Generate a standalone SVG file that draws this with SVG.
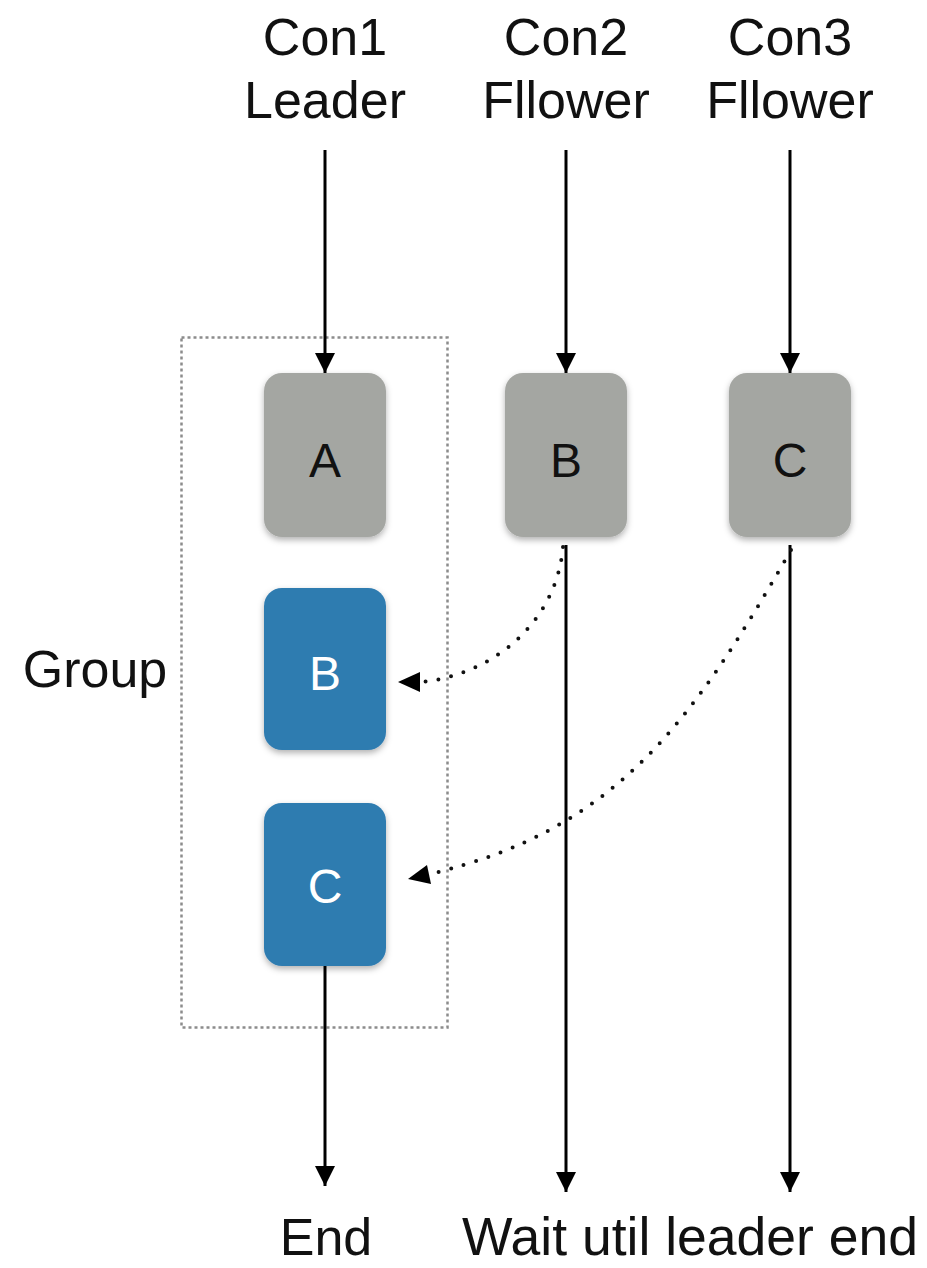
<svg xmlns="http://www.w3.org/2000/svg" width="927" height="1268" viewBox="0 0 927 1268">
<style>
text{font-family:"Liberation Sans",Arial,sans-serif;font-size:52px;fill:#111;text-anchor:middle}
.lbl{font-size:48px}
.wl{fill:#fff}
.gray{fill:#a4a6a2}
.blue{fill:#2f7bb0}
.line{stroke:#000;stroke-width:3;fill:none}
.dot{stroke:#111;stroke-width:4;fill:none;stroke-linecap:round;stroke-dasharray:0 13}
.grp{stroke:#8c8c8c;stroke-width:2.5;fill:none;stroke-dasharray:3 3}
</style>
<defs>
<filter id="sh" x="-20%" y="-20%" width="140%" height="150%">
<feDropShadow dx="0" dy="3" stdDeviation="3" flood-color="#000" flood-opacity="0.3"/>
</filter>
<marker id="ah" markerWidth="20" markerHeight="20" refX="20" refY="10" orient="auto" markerUnits="userSpaceOnUse">
<path d="M0,0 L20,10 L0,20 Z" fill="#000"/>
</marker>
</defs>
<g id="headers">
<text x="325" y="55">Con1</text>
<text x="325" y="118">Leader</text>
<text x="566" y="55">Con2</text>
<text x="566" y="118">Fllower</text>
<text x="790" y="55">Con3</text>
<text x="790" y="118">Fllower</text>
</g>
<g id="group">
<rect class="grp" x="181.5" y="337.5" width="266" height="690"/>
<text x="95" y="687">Group</text>
</g>
<g id="connectors">
<line class="line" x1="325" y1="150" x2="325" y2="373" marker-end="url(#ah)"/>
<line class="line" x1="566" y1="150" x2="566" y2="373" marker-end="url(#ah)"/>
<line class="line" x1="790" y1="150" x2="790" y2="373" marker-end="url(#ah)"/>
<line class="line" x1="325" y1="966" x2="325" y2="1186" marker-end="url(#ah)"/>
<line class="line" x1="566" y1="545" x2="566" y2="1192" marker-end="url(#ah)"/>
<line class="line" x1="790" y1="545" x2="790" y2="1192" marker-end="url(#ah)"/>
<path class="dot" d="M563,547 C556,625 490,675 422,682"/>
<path d="M398,682 L420,672 L420,692 Z" fill="#000"/>
<path class="dot" d="M791,550 C691,724 616,830 430,874"/>
<path d="M408,879 L427,865 L431,884 Z" fill="#000"/>
</g>
<g id="nodeA">
<rect class="gray" x="264" y="373" width="122" height="164" rx="18" filter="url(#sh)"/>
<text class="lbl" x="325" y="477">A</text>
</g>
<g id="nodeB">
<rect class="gray" x="505" y="373" width="122" height="164" rx="18" filter="url(#sh)"/>
<text class="lbl" x="566" y="477">B</text>
</g>
<g id="nodeC">
<rect class="gray" x="729" y="373" width="122" height="164" rx="18" filter="url(#sh)"/>
<text class="lbl" x="790" y="477">C</text>
</g>
<g id="groupB">
<rect class="blue" x="264" y="588" width="122" height="162" rx="18" filter="url(#sh)"/>
<text class="lbl wl" x="325" y="690">B</text>
</g>
<g id="groupC">
<rect class="blue" x="264" y="803" width="122" height="163" rx="18" filter="url(#sh)"/>
<text class="lbl wl" x="325" y="903">C</text>
</g>
<g id="footer">
<text x="326" y="1255">End</text>
<text x="690" y="1255" style="font-size:53.5px">Wait util leader end</text>
</g>
</svg>
